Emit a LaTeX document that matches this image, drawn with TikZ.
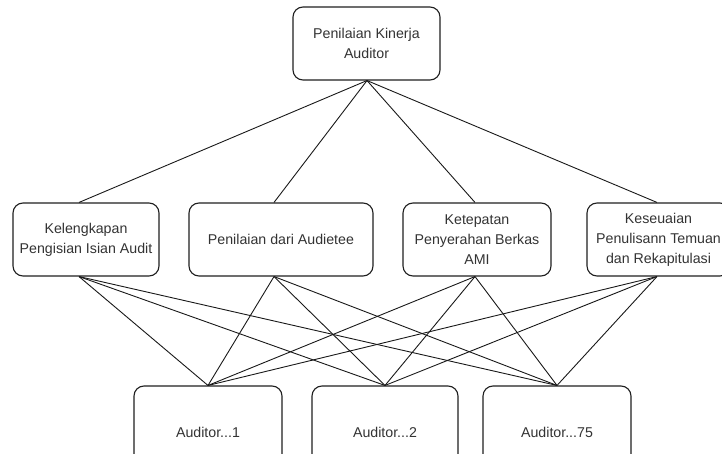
\documentclass[tikz,border=0pt]{standalone}
\usepackage{fontspec}
\setmainfont{Liberation Sans}
\begin{document}
\begin{tikzpicture}[x=1pt,y=-1pt,
  box/.style={draw=black!88, line width=1.1pt, rounded corners=10pt,
    fill=white, align=center, text=black!80, inner sep=0pt,
    font=\fontsize{14.2}{20}\selectfont},
  link/.style={draw=black!90, line width=0.9pt}]
\useasboundingbox (0,0) rectangle (722,454);
\clip (0,0) rectangle (722,454);

% goal
\node[box, minimum width=147pt, minimum height=73pt] (top) at (366.5,43.5)
  {Penilaian Kinerja\\Auditor};

% criteria
\node[box, minimum width=146pt, minimum height=73pt] (k1) at (86,239.5)
  {Kelengkapan\\Pengisian Isian Audit};
\node[box, minimum width=184pt, minimum height=73pt] (k2) at (281,239.5)
  {Penilaian dari Audietee};
\node[box, minimum width=148pt, minimum height=73pt] (k3) at (477,239.5)
  {Ketepatan\\Penyerahan Berkas\\AMI};
\node[box, minimum width=143pt, minimum height=73pt] (k4) at (658.5,239.5)
  {Keseuaian\\Penulisann Temuan\\dan Rekapitulasi};

% alternatives
\node[box, minimum width=148pt, minimum height=92pt] (a1) at (208,432) {Auditor...1};
\node[box, minimum width=146pt, minimum height=92pt] (a2) at (385,432) {Auditor...2};
\node[box, minimum width=148pt, minimum height=92pt] (a3) at (557,432) {Auditor...75};

% goal to criteria
\foreach \k/\dx in {k1/-7, k2/-7, k3/-2, k4/-1.5}
  \draw[link] ([xshift=0.5pt]top.south) -- ([xshift=\dx pt]\k.north);

% criteria to alternatives
\foreach \k/\dx in {k1/-7, k2/-7, k3/-2, k4/-1.5}
  \foreach \a in {a1, a2, a3}
    \draw[link] ([xshift=\dx pt]\k.south) -- (\a.north);
\end{tikzpicture}
\end{document}
